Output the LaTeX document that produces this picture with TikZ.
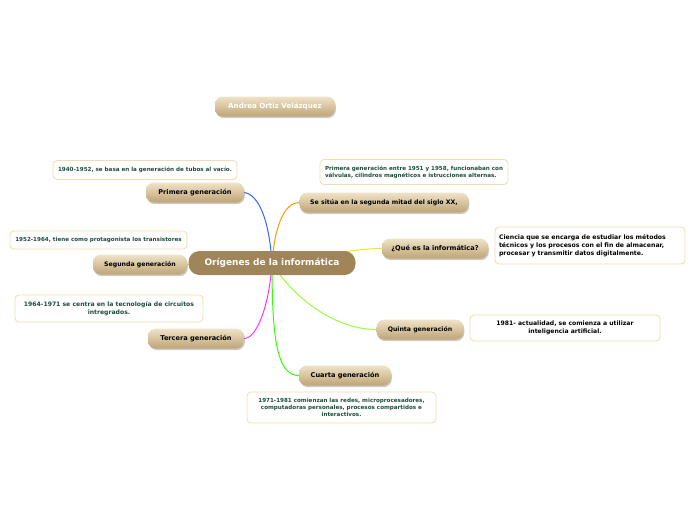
\documentclass[tikz,border=0pt]{standalone}
\usepackage{fontspec}
\setmainfont{DejaVu Sans}
\usetikzlibrary{shadows,backgrounds,calc}
\definecolor{notegreen}{HTML}{1E4D3A}
\definecolor{noteborder}{HTML}{F2DCAE}
\definecolor{tanlight}{HTML}{EFE3C8}
\definecolor{tandark}{HTML}{BFA475}
\definecolor{rootfill}{HTML}{A0845A}
\tikzset{
  x=1pt, y=-1pt,
  topic/.style={rounded corners=8pt, top color=tanlight, bottom color=tandark, draw=none,
    font=\bfseries\fontsize{6.6}{8}\selectfont, text=black, minimum height=20pt, inner sep=2pt,
    drop shadow={shadow xshift=0.8pt, shadow yshift=-1.6pt, opacity=0.35, fill=black!60}},
  rootnode/.style={rounded corners=11pt, fill=rootfill, draw=none, text=white,
    font=\bfseries\fontsize{9}{10}\selectfont, minimum height=24pt, minimum width=167pt, inner sep=2pt},
  note/.style={rounded corners=4pt, fill=white, draw=noteborder, line width=0.8pt,
    font=\bfseries\fontsize{5.6}{7}\selectfont, text=notegreen, align=center, inner sep=3pt},
  link/.style={line width=1pt},
}
\begin{document}
\begin{tikzpicture}
\useasboundingbox (0,0) rectangle (696,520);
% nodes
\node[topic, text=white, minimum width=120pt, font=\bfseries\fontsize{7.1}{8}\selectfont] (author) at (275,106.5) {Andrea Ortiz Velázquez};
\node[rootnode] (root) at (272,263) {Orígenes de la informática};
\node[topic, minimum width=98pt] (prim) at (195,192.5) {Primera generación};
\node[note, minimum width=184pt, minimum height=19pt] (n1) at (145,170) {1940-1952, se basa en la generación de tubos al vacío.};
\node[topic, minimum width=169pt, font=\bfseries\fontsize{6.2}{8}\selectfont] (se) at (384,202.5) {Se sitúa en la segunda mitad del siglo XX,};
\node[note, minimum width=188pt, minimum height=25pt, align=left] (n2) at (414,172) {Primera generación entre 1951 y 1958, funcionaban con\\válvulas, cilindros magnéticos e istrucciones alternas.};
\node[topic, minimum width=94pt, font=\bfseries\fontsize{6.2}{8}\selectfont] (seg) at (140,264.5) {Segunda generación};
\node[note, minimum width=177pt, minimum height=18pt] (n3) at (98.5,240) {1952-1964, tiene como protagonista los transistores};
\node[topic, minimum width=106pt] (que) at (435,248.5) {¿Qué es la informática?};
\node[note, text width=182pt, minimum height=37pt, inner sep=4pt, align=left, text=black, font=\bfseries\fontsize{6.2}{8}\selectfont] (n4) at (590,245.5) {Ciencia que se encarga de estudiar los métodos\\técnicos y los procesos con el fin de almacenar,\\procesar y transmitir datos digitalmente.};
\node[topic, minimum width=96pt] (ter) at (196,338.5) {Tercera generación};
\node[note, minimum width=188pt, minimum height=27pt, font=\bfseries\fontsize{6.1}{7.6}\selectfont] (n5) at (109,308.5) {1964-1971 se centra en la tecnología de circuitos\\intregrados.};
\node[topic, minimum width=87pt, font=\bfseries\fontsize{6.2}{8}\selectfont] (qui) at (420,329.5) {Quinta generación};
\node[note, minimum width=190pt, minimum height=26pt, text=black, font=\bfseries\fontsize{6.1}{7.6}\selectfont] (n6) at (565,328) {1981- actualidad, se comienza a utilizar\\inteligencia artificial.};
\node[topic, minimum width=92pt] (cua) at (345,375.5) {Cuarta generación};
\node[note, minimum width=189pt, minimum height=31pt, font=\bfseries\fontsize{5.6}{7}\selectfont] (n7) at (341.5,407.5) {1971-1981 comienzan las redes, microprocesadores,\\computadoras personales, procesos compartidos e\\interactivos.};
% connectors
\begin{scope}[on background layer]
\draw[link, draw={rgb,255:red,51;green,102;blue,255}] (root.center) .. controls ($(root.center)+(-3,-45)$) and ($(prim.east)+(14,2)$) .. (prim.east);
\draw[link, draw={rgb,255:red,255;green,153;blue,0}] (root.center) .. controls ($(root.center)+(3,-40)$) and ($(se.west)+(-14,0)$) .. (se.west);
\draw[link, draw={rgb,255:red,240;green,240;blue,0}] (root.center) .. controls ($(root.center)+(40,-5)$) and ($(que.west)+(-30,0)$) .. (que.west);
\draw[link, draw={rgb,255:red,240;green,240;blue,0}] (root.center) -- (seg.east);
\draw[link, draw={rgb,255:red,255;green,51;blue,255}] (root.center) .. controls ($(root.center)+(-3,45)$) and ($(ter.east)+(12,0)$) .. (ter.east);
\draw[link, draw={rgb,255:red,51;green,255;blue,0}] (root.center) .. controls ($(root.center)+(0,75)$) and ($(cua.west)+(-22,0)$) .. (cua.west);
\draw[link, draw={rgb,255:red,153;green,255;blue,51}] (root.center) .. controls ($(root.center)+(18,30)$) and ($(qui.west)+(-45,0)$) .. (qui.west);
\end{scope}
\end{tikzpicture}
\end{document}
